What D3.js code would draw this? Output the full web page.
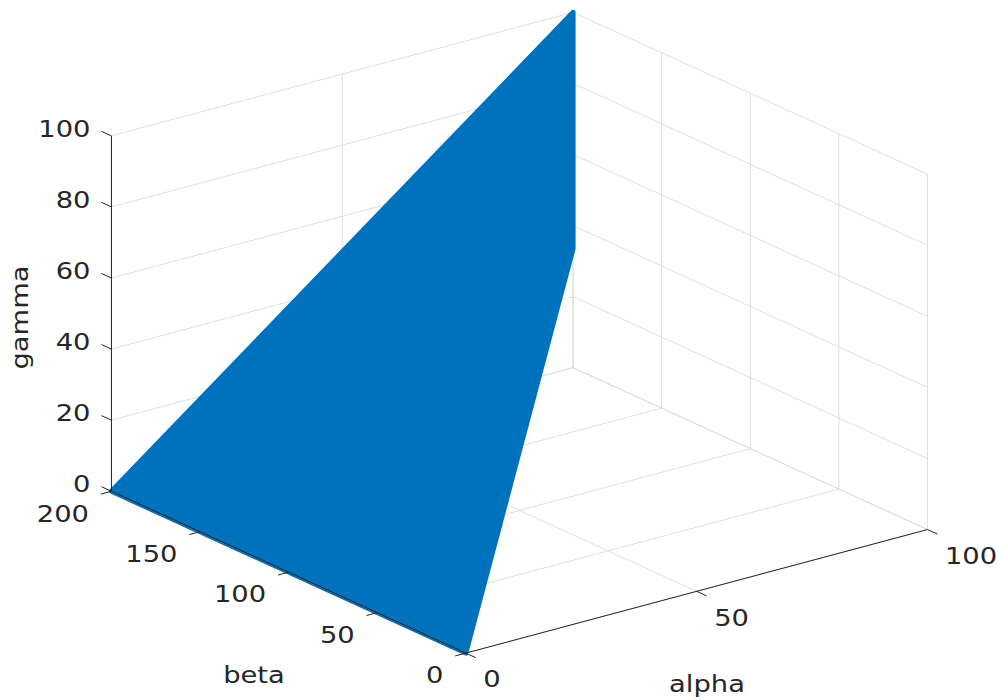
<!DOCTYPE html>
<html>
<head>
<meta charset="utf-8">
<script src="https://cdn.jsdelivr.net/npm/d3@7"></script>
<style>
  body { margin: 0; background: #fff; }
  text { font-family: "DejaVu Sans", sans-serif; fill: #262626; }
</style>
</head>
<body>
<svg id="chart" width="998" height="700"></svg>
<script>
// axis ticks
var alphaTicks = [0, 50, 100];
var betaTicks = [0, 50, 100, 150, 200];
var gammaTicks = [0, 20, 40, 60, 80, 100];

// outline of the filled region (corners of the point cloud)
var regionAlpha = [0, 0, 100, 100];
var regionBeta = [200, 0, 200, 200];
var regionGamma = [0, 0, 33.5, 100];

var xA = d3.scaleLinear().domain([0, 100]).range([0, 1]);
var xB = d3.scaleLinear().domain([0, 200]).range([0, 1]);
var xG = d3.scaleLinear().domain([0, 100]).range([0, 1]);

// screen basis of the 3d box (orthographic view)
var origin = [465.8, 653.1];
var va = [461.65, -123.55];
var vb = [-354.35, -161.85];
var vg = [0, -355.4];

function project(a, b, g) {
  var ta = xA(a), tb = xB(b), tg = xG(g);
  return [
    origin[0] + va[0] * ta + vb[0] * tb + vg[0] * tg,
    origin[1] + va[1] * ta + vb[1] * tb + vg[1] * tg
  ];
}

function unit(v) {
  var l = Math.sqrt(v[0] * v[0] + v[1] * v[1]);
  return [v[0] / l, v[1] / l];
}

var svg = d3.select('#chart');
var line = d3.line();

var gridColor = '#dedede';
var axisColor = '#262626';
var fontSize = 23;
var stretch = 1.19; // text in the reference is a bit wider than tall

var grid = svg.append('g').attr('class', 'grid')
  .attr('fill', 'none')
  .attr('stroke', gridColor)
  .attr('stroke-width', 1);

var gridLines = [];
// wall beta = 200
gammaTicks.forEach(function (g) {
  gridLines.push([project(0, 200, g), project(100, 200, g)]);
});
alphaTicks.forEach(function (a) {
  gridLines.push([project(a, 200, 0), project(a, 200, 100)]);
});
// wall alpha = 100
gammaTicks.forEach(function (g) {
  gridLines.push([project(100, 0, g), project(100, 200, g)]);
});
betaTicks.forEach(function (b) {
  gridLines.push([project(100, b, 0), project(100, b, 100)]);
});
// floor gamma = 0
alphaTicks.forEach(function (a) {
  gridLines.push([project(a, 0, 0), project(a, 200, 0)]);
});
betaTicks.forEach(function (b) {
  gridLines.push([project(0, b, 0), project(100, b, 0)]);
});

grid.selectAll('path')
  .data(gridLines)
  .enter()
  .append('path')
  .attr('d', line);

// filled region
var region = regionAlpha.map(function (a, i) {
  return project(a, regionBeta[i], regionGamma[i]);
});

svg.append('path')
  .attr('class', 'region')
  .attr('d', line(region) + 'Z')
  .attr('fill', '#0072bd')
  .attr('stroke', '#0072bd')
  .attr('stroke-width', 5)
  .attr('stroke-linejoin', 'round');

// axes
var axes = svg.append('g').attr('class', 'axes')
  .attr('fill', 'none')
  .attr('stroke', axisColor)
  .attr('stroke-width', 1);

var tickLen = 11;
var dirB = unit(vb);
var dirNegA = unit([-va[0], -va[1]]);
var dirNegB = unit([-vb[0], -vb[1]]);

// gamma axis at alpha = 0, beta = 200
axes.append('path').attr('d', line([project(0, 200, 0), project(0, 200, 100)]));
gammaTicks.forEach(function (g) {
  var p = project(0, 200, g);
  axes.append('path').attr('d', line([p, [p[0] + dirB[0] * tickLen, p[1] + dirB[1] * tickLen]]));
});

// beta axis at alpha = 0, gamma = 0
axes.append('path').attr('d', line([project(0, 0, 0), project(0, 200, 0)]));
betaTicks.forEach(function (b) {
  var p = project(0, b, 0);
  axes.append('path').attr('d', line([p, [p[0] + dirNegA[0] * tickLen, p[1] + dirNegA[1] * tickLen]]));
});

// alpha axis at beta = 0, gamma = 0
axes.append('path').attr('d', line([project(0, 0, 0), project(100, 0, 0)]));
alphaTicks.forEach(function (a) {
  var p = project(a, 0, 0);
  axes.append('path').attr('d', line([p, [p[0] + dirNegB[0] * tickLen, p[1] + dirNegB[1] * tickLen]]));
});

// tick labels
var labels = svg.append('g').attr('class', 'labels')
  .style('font-size', fontSize + 'px');

function place(x, y, rot) {
  return 'translate(' + x + ',' + y + ')' + (rot ? ' rotate(' + rot + ')' : '') + ' scale(' + stretch + ',1)';
}

labels.selectAll('.gtick')
  .data(gammaTicks)
  .enter()
  .append('text')
  .attr('class', 'gtick')
  .attr('text-anchor', 'end')
  .attr('dy', '0.36em')
  .attr('transform', function (d) {
    var p = project(0, 200, d);
    return place(p[0] - 21, p[1] - 7.5);
  })
  .text(function (d) { return d; });

labels.selectAll('.btick')
  .data(betaTicks)
  .enter()
  .append('text')
  .attr('class', 'btick')
  .attr('text-anchor', 'end')
  .attr('dy', '0.36em')
  .attr('transform', function (d) {
    var p = project(0, d, 0);
    return place(p[0] - 22.5, p[1] + 22);
  })
  .text(function (d) { return d; });

labels.selectAll('.atick')
  .data(alphaTicks)
  .enter()
  .append('text')
  .attr('class', 'atick')
  .attr('text-anchor', 'start')
  .attr('dy', '0.36em')
  .attr('transform', function (d) {
    var p = project(d, 0, 0);
    return place(p[0] + 17.5, p[1] + 26);
  })
  .text(function (d) { return d; });

// axis titles
labels.append('text')
  .attr('text-anchor', 'middle')
  .attr('transform', place(28, 317.5, -90))
  .text('gamma');

labels.append('text')
  .attr('text-anchor', 'middle')
  .attr('transform', place(254, 683))
  .text('beta');

labels.append('text')
  .attr('text-anchor', 'middle')
  .attr('transform', place(707, 692))
  .text('alpha');
</script>
</body>
</html>
